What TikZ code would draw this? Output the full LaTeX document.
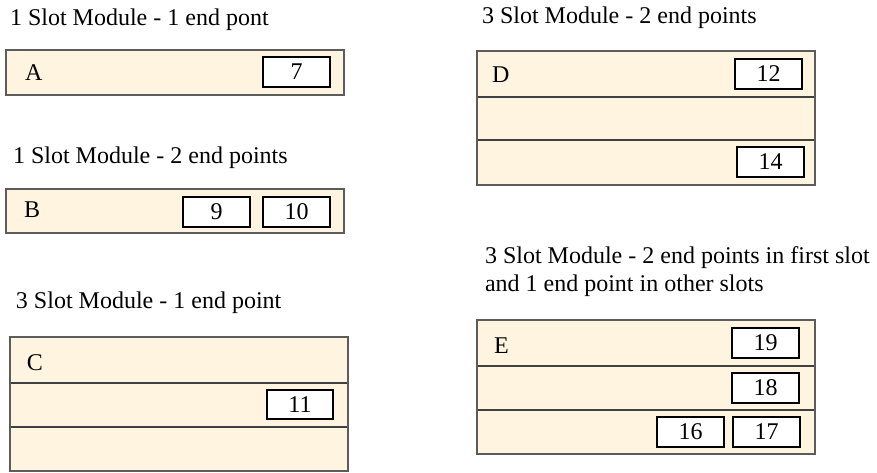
\documentclass[tikz,border=0pt]{standalone}
\usepackage{fontspec}
\setmainfont{Liberation Serif}
\definecolor{slotfill}{HTML}{FFF4DF}
\definecolor{framegray}{HTML}{5C5C5C}
\definecolor{divgray}{HTML}{404040}
\begin{document}
\begin{tikzpicture}[x=1pt,y=-1pt,
  every node/.style={inner sep=0pt, outer sep=0pt, font=\fontsize{24}{28}\selectfont},
  slot/.style={draw=divgray, line width=1.6pt, fill=slotfill, rectangle, anchor=north west, minimum width=338},
  modframe/.style={draw=framegray, line width=2.6pt, rectangle, anchor=north west, minimum width=338},
  endpt/.style={draw=black, line width=1.3pt, fill=white, rectangle, anchor=north west, minimum width=67, minimum height=30},
  title/.style={anchor=base west, align=left},
  tag/.style={anchor=base west}]
\useasboundingbox (0,0) rectangle (877,473);

% --- Module A: one slot, one end point
\node[title] (tA) at (10,26) {1 Slot Module - 1 end pont};
\node[slot, minimum height=45] (A1) at (6,50) {};
\node[modframe, minimum height=45] (A) at (6,50) {};
\node[tag] (lA) at (25,81) {A};
\node[endpt] (e7) at (263,57) {7};

% --- Module B: one slot, two end points
\node[title] (tB) at (13,164) {1 Slot Module - 2 end points};
\node[slot, minimum height=44] (B1) at (6,189) {};
\node[modframe, minimum height=44] (B) at (6,189) {};
\node[tag] (lB) at (24,217) {B};
\node[endpt] (e9) at (183,197) {9};
\node[endpt] (e10) at (263,197) {10};

% --- Module C: three slots, one end point
\node[title] (tC) at (16,308) {3 Slot Module - 1 end point};
\node[slot, minimum height=46] (C1) at (10,337) {};
\node[slot, minimum height=44] (C2) at (10,383) {};
\node[slot, minimum height=44] (C3) at (10,427) {};
\node[modframe, minimum height=134] (C) at (10,337) {};
\node[tag] (lC) at (27,370) {C};
\node[endpt, minimum width=66, minimum height=29] (e11) at (267,390) {11};

% --- Module D: three slots, two end points
\node[title] (tD) at (482,24) {3 Slot Module - 2 end points};
\node[slot, minimum height=46] (D1) at (477,51) {};
\node[slot, minimum height=43] (D2) at (477,97) {};
\node[slot, minimum height=45] (D3) at (477,140) {};
\node[modframe, minimum height=134] (D) at (477,51) {};
\node[tag] (lD) at (492,83) {D};
\node[endpt] (e12) at (735,59) {12};
\node[endpt] (e14) at (737,147) {14};

% --- Module E: three slots, two end points in the first slot
% (base anchor of a two-line node sits on its last line)
\node[title] (tE) at (485,291) {3 Slot Module - 2 end points in first slot\\and 1 end point in other slots};
\node[slot, minimum height=46] (E1) at (477,320) {};
\node[slot, minimum height=44] (E2) at (477,366) {};
\node[slot, minimum height=44] (E3) at (477,410) {};
\node[modframe, minimum height=134] (E) at (477,320) {};
\node[tag] (lE) at (494,353) {E};
\node[endpt] (e19) at (732,328) {19};
\node[endpt] (e18) at (732,373) {18};
\node[endpt] (e16) at (657,417) {16};
\node[endpt] (e17) at (733,417) {17};
\end{tikzpicture}
\end{document}
